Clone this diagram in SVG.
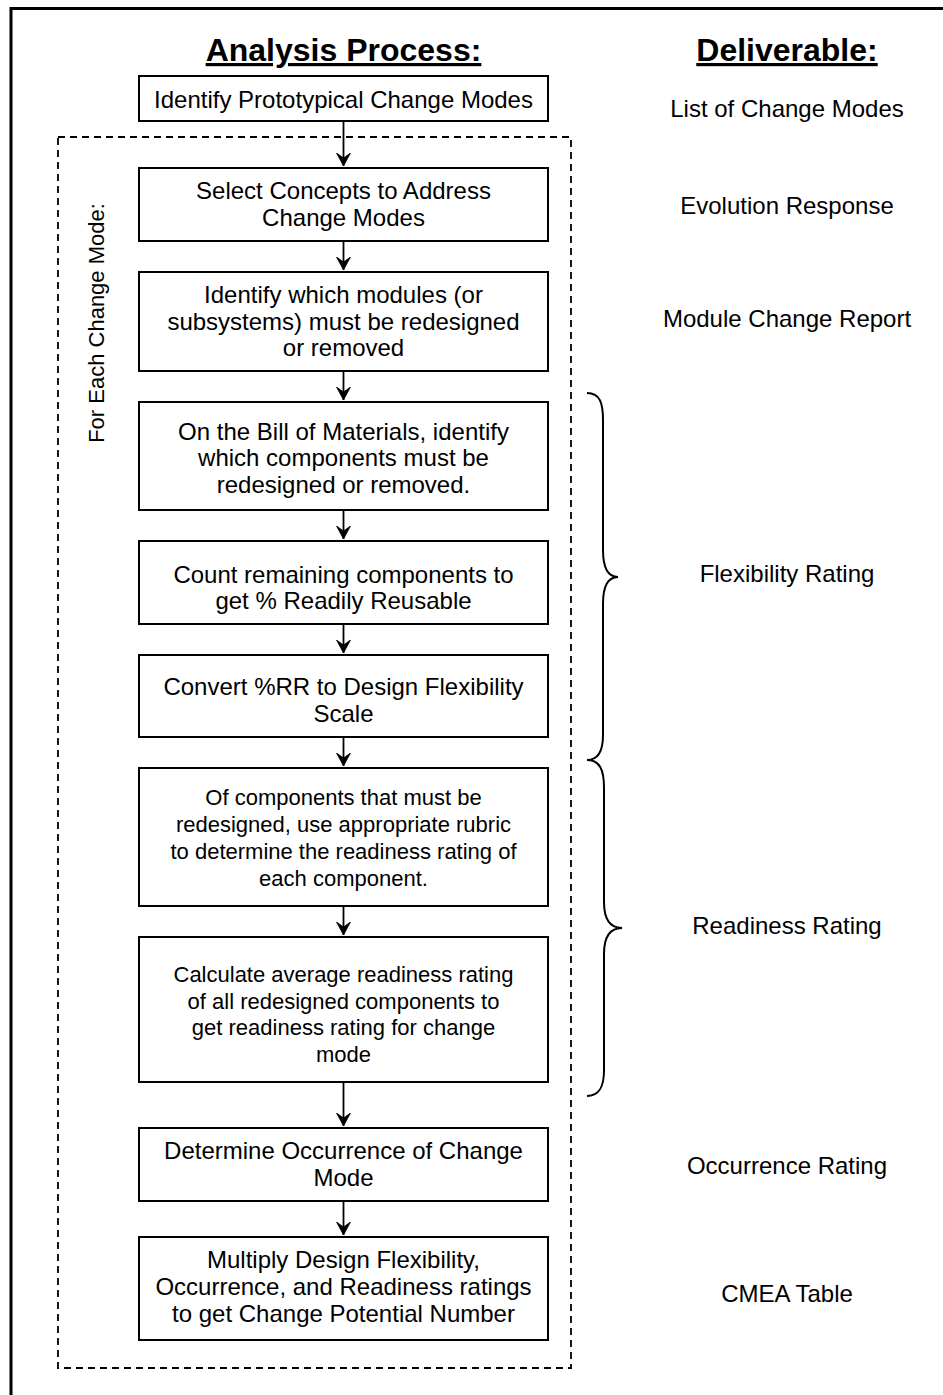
<svg xmlns="http://www.w3.org/2000/svg" width="943" height="1395" viewBox="0 0 943 1395">
  <style>
    .frame { fill: none; stroke: #000; stroke-width: 3; }
    .group { fill: none; stroke: #000; stroke-width: 1.8; stroke-dasharray: 7 5; }
    .box { fill: #fff; stroke: #000; stroke-width: 2; }
    .link { fill: none; stroke: #000; stroke-width: 1.8; }
    .brace { fill: none; stroke: #000; stroke-width: 2; }
    text { font-family: "Liberation Sans", Arial, sans-serif; fill: #000; }
    .head { font-size: 32px; font-weight: bold; text-anchor: middle; text-decoration: underline; }
    .step { font-size: 24px; text-anchor: middle; }
    .small { font-size: 22px; }
    .side { font-size: 22px; text-anchor: middle; }
    .out { font-size: 24px; text-anchor: middle; }
  </style>
  <defs>
    <!-- barbed arrowhead used on every flow connector -->
    <marker id="arrow" markerWidth="16" markerHeight="16" refX="13" refY="7.5" orient="auto" markerUnits="userSpaceOnUse">
      <path d="M0,0.5 L13,7.5 L0,14.5 L5,7.5 Z" fill="#000" stroke="#000" stroke-width="0.8" stroke-linejoin="miter"/>
    </marker>
  </defs>

  <!-- outer frame (open to the right and bottom) -->
  <rect class="frame" x="11" y="8.5" width="1000" height="1500"/>

  <!-- column headings -->
  <text class="head" x="343.5" y="61">Analysis Process:</text>
  <text class="head" x="787" y="61">Deliverable:</text>

  <!-- repeated-per-change-mode region -->
  <g id="loop">
    <rect class="group" x="58" y="137" width="513" height="1231"/>
    <text class="side" transform="translate(104 323) rotate(-90)">For Each Change Mode:</text>
  </g>

  <!-- connectors -->
  <g id="connectors">
    <line class="link" x1="343.5" y1="121" x2="343.5" y2="166" marker-end="url(#arrow)"/>
    <line class="link" x1="343.5" y1="241" x2="343.5" y2="270" marker-end="url(#arrow)"/>
    <line class="link" x1="343.5" y1="371" x2="343.5" y2="400" marker-end="url(#arrow)"/>
    <line class="link" x1="343.5" y1="510" x2="343.5" y2="539" marker-end="url(#arrow)"/>
    <line class="link" x1="343.5" y1="624" x2="343.5" y2="653" marker-end="url(#arrow)"/>
    <line class="link" x1="343.5" y1="737" x2="343.5" y2="766" marker-end="url(#arrow)"/>
    <line class="link" x1="343.5" y1="906" x2="343.5" y2="935" marker-end="url(#arrow)"/>
    <line class="link" x1="343.5" y1="1082" x2="343.5" y2="1126" marker-end="url(#arrow)"/>
    <line class="link" x1="343.5" y1="1201" x2="343.5" y2="1235" marker-end="url(#arrow)"/>
  </g>

  <!-- process steps -->
  <g id="step1">
    <rect class="box" x="139" y="76" width="409" height="45"/>
    <text class="step" x="343.5" y="107.5">Identify Prototypical Change Modes</text>
  </g>
  <g id="step2">
    <rect class="box" x="139" y="168" width="409" height="73"/>
    <text class="step" x="343.5" y="198.5">Select Concepts to Address</text>
    <text class="step" x="343.5" y="225.5">Change Modes</text>
  </g>
  <g id="step3">
    <rect class="box" x="139" y="272" width="409" height="99"/>
    <text class="step" x="343.5" y="302.5">Identify which modules (or</text>
    <text class="step" x="343.5" y="329.5">subsystems) must be redesigned</text>
    <text class="step" x="343.5" y="356">or removed</text>
  </g>
  <g id="step4">
    <rect class="box" x="139" y="402" width="409" height="108"/>
    <text class="step" x="343.5" y="439.5">On the Bill of Materials, identify</text>
    <text class="step" x="343.5" y="466">which components must be</text>
    <text class="step" x="343.5" y="492.5">redesigned or removed.</text>
  </g>
  <g id="step5">
    <rect class="box" x="139" y="541" width="409" height="83"/>
    <text class="step" x="343.5" y="582.5">Count remaining components to</text>
    <text class="step" x="343.5" y="608.5">get % Readily Reusable</text>
  </g>
  <g id="step6">
    <rect class="box" x="139" y="655" width="409" height="82"/>
    <text class="step" x="343.5" y="694.5">Convert %RR to Design Flexibility</text>
    <text class="step" x="343.5" y="721.5">Scale</text>
  </g>
  <g id="step7">
    <rect class="box" x="139" y="768" width="409" height="138"/>
    <text class="step small" x="343.5" y="805">Of components that must be</text>
    <text class="step small" x="343.5" y="832">redesigned, use appropriate rubric</text>
    <text class="step small" x="343.5" y="859">to determine the readiness rating of</text>
    <text class="step small" x="343.5" y="885.5">each component.</text>
  </g>
  <g id="step8">
    <rect class="box" x="139" y="937" width="409" height="145"/>
    <text class="step small" x="343.5" y="982">Calculate average readiness rating</text>
    <text class="step small" x="343.5" y="1008.5">of all redesigned components to</text>
    <text class="step small" x="343.5" y="1035">get readiness rating for change</text>
    <text class="step small" x="343.5" y="1062">mode</text>
  </g>
  <g id="step9">
    <rect class="box" x="139" y="1128" width="409" height="73"/>
    <text class="step" x="343.5" y="1158.5">Determine Occurrence of Change</text>
    <text class="step" x="343.5" y="1185.5">Mode</text>
  </g>
  <g id="step10">
    <rect class="box" x="139" y="1237" width="409" height="103"/>
    <text class="step" x="343.5" y="1267.5">Multiply Design Flexibility,</text>
    <text class="step" x="343.5" y="1294.5">Occurrence, and Readiness ratings</text>
    <text class="step" x="343.5" y="1321.5">to get Change Potential Number</text>
  </g>

  <!-- braces grouping steps to a shared deliverable -->
  <g id="braces">
    <path class="brace" d="M587,393 C600,393 603,403 603,420 L603,550 C603,568 608,577 618,577 C608,577 603,586 603,604 L603,735 C603,750 599,760 587,760"/>
    <path class="brace" d="M587,760 C600,760 604,770 604,788 L604,902 C604,920 610,928 622,928 C610,928 604,936 604,954 L604,1070 C604,1086 600,1096 587,1096"/>
  </g>

  <!-- deliverables -->
  <g id="deliverables">
    <text class="out" x="787" y="117">List of Change Modes</text>
    <text class="out" x="787" y="214">Evolution Response</text>
    <text class="out" x="787" y="327">Module Change Report</text>
    <text class="out" x="787" y="582">Flexibility Rating</text>
    <text class="out" x="787" y="934">Readiness Rating</text>
    <text class="out" x="787" y="1174">Occurrence Rating</text>
    <text class="out" x="787" y="1302">CMEA Table</text>
  </g>
</svg>
